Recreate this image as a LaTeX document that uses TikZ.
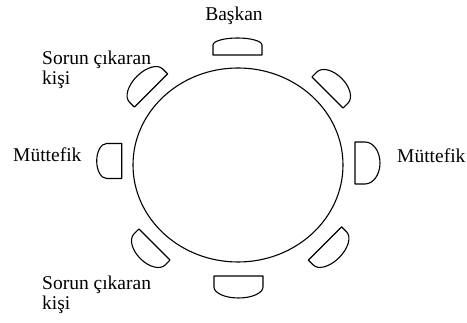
\documentclass[tikz,border=0pt]{standalone}
\usepackage{fontspec}
\setmainfont{Liberation Serif}
\usepackage{tikz}
\definecolor{cizgi}{HTML}{000000}
\tikzset{
  masacizgi/.style={draw=cizgi,line width=1.1pt},
  etiket/.style={inner sep=0pt,font=\fontsize{19.5}{20}\selectfont},
}
% sandalye: {konum}{aci}{genislik}{duz kisim}{kavis}
\newcommand{\sandalye}[5]{%
  \draw[masacizgi,line join=round,shift={(#1)},rotate=#2]
    ({-(#3)/2},0) -- ({(#3)/2},0) -- ({(#3)/2},#4)
    arc[start angle=0,end angle=180,x radius={(#3)/2*1pt},y radius={(#5)*1pt}]
    -- cycle;}

\begin{document}
\begin{tikzpicture}[x=1pt,y=1pt]
\useasboundingbox (0,0) rectangle (467,323);
% masa
\draw[masacizgi] (238,158) ellipse [x radius=105pt,y radius=97pt];
% sandalyeler
\sandalye{237.5,268}{0}{49}{10}{7}
\sandalye{238.5,47}{180}{49}{11}{11}
\sandalye{121.7,162}{90}{35}{15}{10}
\sandalye{355,160}{-90}{42}{10}{15}
\sandalye{151,232.5}{45}{47}{7}{13}
\sandalye{327.5,230.5}{-45}{44}{7}{13}
\sandalye{154.5,78.5}{135}{44}{7}{13}
\sandalye{325,79.5}{-135}{47}{7}{13}
% yazilar
\node[etiket,anchor=base] (baskan) at (234,302) {Başkan};
\node[etiket,anchor=base west] (sorunUst) at (42,258) {Sorun çıkaran};
\node[etiket,anchor=base west] (sorunUstB) at (42,238) {kişi};
\node[etiket,anchor=base west] (muttefikSol) at (13,161) {Müttefik};
\node[etiket,anchor=base west] (muttefikSag) at (397,160) {Müttefik};
\node[etiket,anchor=base west] (sorunAlt) at (42,33) {Sorun çıkaran};
\node[etiket,anchor=base west] (sorunAltB) at (42,13) {kişi};
\end{tikzpicture}
\end{document}
